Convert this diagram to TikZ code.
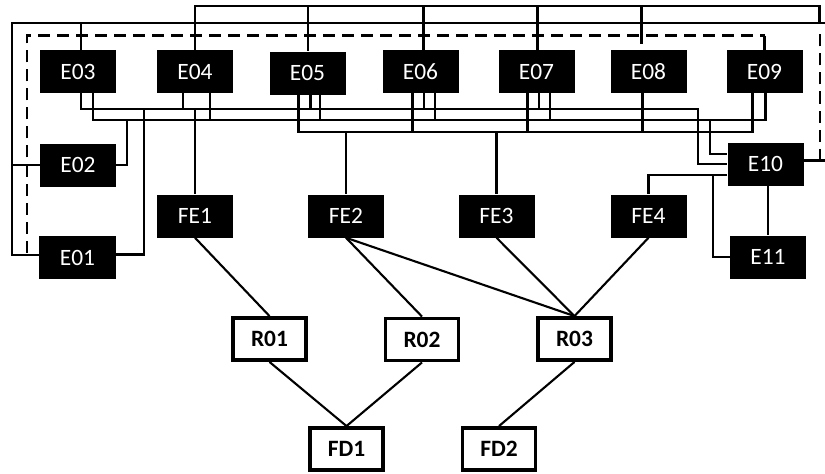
\documentclass[tikz,border=0pt]{standalone}
\usepackage{fontspec}
\setmainfont{Carlito}
\usetikzlibrary{calc}
\tikzset{
  eqp/.style={rectangle, fill=black, text=white, minimum width=2.28cm,
              minimum height=1.29cm, inner sep=0pt, font=\fontsize{20}{23}\selectfont},
  rtr/.style={rectangle, draw=black, line width=3pt, fill=white, minimum width=2.2cm,
              minimum height=1.27cm, inner sep=0pt, font=\fontsize{20}{23}\selectfont\bfseries},
  wire/.style={draw=black, line width=1.8pt},
  loopd/.style={wire, dash pattern=on 0.36cm off 0.21cm},
}

\begin{document}
\begin{tikzpicture}[x=0.03cm, y=-0.03cm]
  \useasboundingbox (0,0) rectangle (825,473);

  % --- top row of equipment ---
  \node[eqp] (e03) at (78,71.5) {E03};
  \node[eqp] (e04) at (195,71.5) {E04};
  \node[eqp] (e05) at (307.5,73) {E05};
  \node[eqp] (e06) at (420.5,71.5) {E06};
  \node[eqp] (e07) at (536.5,71.5) {E07};
  \node[eqp] (e08) at (648.5,71.5) {E08};
  \node[eqp] (e09) at (764.5,71.5) {E09};

  % --- side equipment ---
  \node[eqp] (e02) at (78,165) {E02};
  \node[eqp] (e01) at (77.5,257.5) {E01};
  \node[eqp] (e10) at (765.5,164) {E10};
  \node[eqp] (e11) at (768,257) {E11};

  % --- front ends ---
  \node[eqp] (fe1) at (195,216) {FE1};
  \node[eqp] (fe2) at (346,216) {FE2};
  \node[eqp] (fe3) at (496.5,216) {FE3};
  \node[eqp] (fe4) at (648.5,216) {FE4};

  % --- routers and feeders ---
  \node[rtr] (r01) at (269.5,339) {R01};
  \node[rtr] (r02) at (422,339.5) {R02};
  \node[rtr] (r03) at (574.5,339) {R03};
  \node[rtr] (fd1) at (346.5,449) {FD1};
  \node[rtr] (fd2) at (499,449) {FD2};

  % --- wire levels ---
  \coordinate (tw) at (0,6);
  \coordinate (ol) at (12,23);
  \coordinate (or) at (826,23);
  \coordinate (tr) at (819.5,6);
  \coordinate (dl) at (27,35.5);
  \coordinate (busA) at (0,109.3);
  \coordinate (busB) at (0,120);
  \coordinate (busC) at (0,131.7);

  % --- outer solid loop ---
  \draw[wire] (or) -- (ol) |- ($(e01.west)+(0,-2.5)$);
  \draw[wire] (e02.west) -- (e02.west -| ol);
  \draw[wire] ($(e03.north)+(3,0)$) -- ($(e03.north |- ol)+(3,0)$);

  % --- top wire ---
  \draw[wire] (e04.north) -- (e04.north |- tw) -- (tr) -- (tr |- ol);
  \foreach \n/\dx in {e05/0.5, e06/3, e07/1}
    \draw[wire] ($(\n.north |- tw)+(\dx,0)$) -- ($(\n.north)+(\dx,0)$);
  \draw[wire] ($(e08.north |- tw)+(-7,0)$) -- ($(e08.north)+(-7,-6)$);

  % --- dashed loop ---
  \draw[loopd] ($(dl |- e01.west)+(0,-5)$) -- (dl) -- (dl -| e09.north);
  \draw[wire] (dl -| e09.north) -- (e09.north);
  \draw[loopd] ($(e10.east)+(16.5,-3.5)$) -- ($(e10.east |- dl)+(16.5,-5.5)$);
  \draw[wire] ($(e10.east)+(0,-3.5)$) -- ++(23,0);

  % --- the three buses ---
  \draw[wire] ($(e03.south)+(3,0)$) -- ($(e03.south |- busA)+(3,0)$)
    -| ($(e10.west)+(-29.2,0)$) -- (e10.west);
  \draw[wire] ($(e03.south)+(15,0)$) -- ($(e03.south |- busB)+(15,0)$)
    -| ($(e09.south)+(1,0)$);
  \draw[wire] ($(e05.south)+(-9,0)$) -- ($(e05.south |- busC)+(-9,0)$)
    -| ($(e09.south)+(-12,0)$);
  \draw[wire] ($(e10.west |- busB)+(-17,0)$) |- ($(e10.west)+(0,-10)$);

  % --- drops onto the buses ---
  \foreach \n/\dx/\b in {e04/-11.7/busA, e04/15/busB, e05/3/busA, e05/12.5/busB,
                         e06/-8/busC, e06/3.5/busA, e06/14.5/busB,
                         e07/-9/busC, e07/2.5/busA, e07/13.5/busB, e08/-6/busC}
    \draw[wire] ($(\n.south)+(\dx,0)$) -- ($(\n.south |- \b)+(\dx,0)$);
  \draw[wire] (e02.east) -| ($(e02.east |- busB)+(11,0)$);
  \draw[wire] ($(e01.east)+(0,-3)$) -| ($(e01.east |- busA)+(28.5,0)$);
  \draw[wire] (fe1.north |- busA) -- (fe1.north);
  \draw[wire] (fe2.north |- busC) -- (fe2.north);
  \draw[wire] (fe3.north |- busC) -- (fe3.north);

  % --- E10 links ---
  \draw[wire] ($(e10.west)+(0,11)$) -| (fe4.north);
  \draw[wire] ($(e10.west)+(-14.5,11)$) |- (e11.west);
  \draw[wire] (e11.north |- e10.south) -- (e11.north);

  % --- lower tree ---
  \draw[wire] (fe1.south) -- (r01.north);
  \draw[wire] (fe2.south) -- (r02.north);
  \draw[wire] (fe2.south) -- (r03.north);
  \draw[wire] (fe3.south) -- (r03.north);
  \draw[wire] (fe4.south) -- (r03.north);
  \draw[wire] (r01.south) -- (fd1.north);
  \draw[wire] (r02.south) -- (fd1.north);
  \draw[wire] (r03.south) -- (fd2.north);
\end{tikzpicture}
\end{document}
